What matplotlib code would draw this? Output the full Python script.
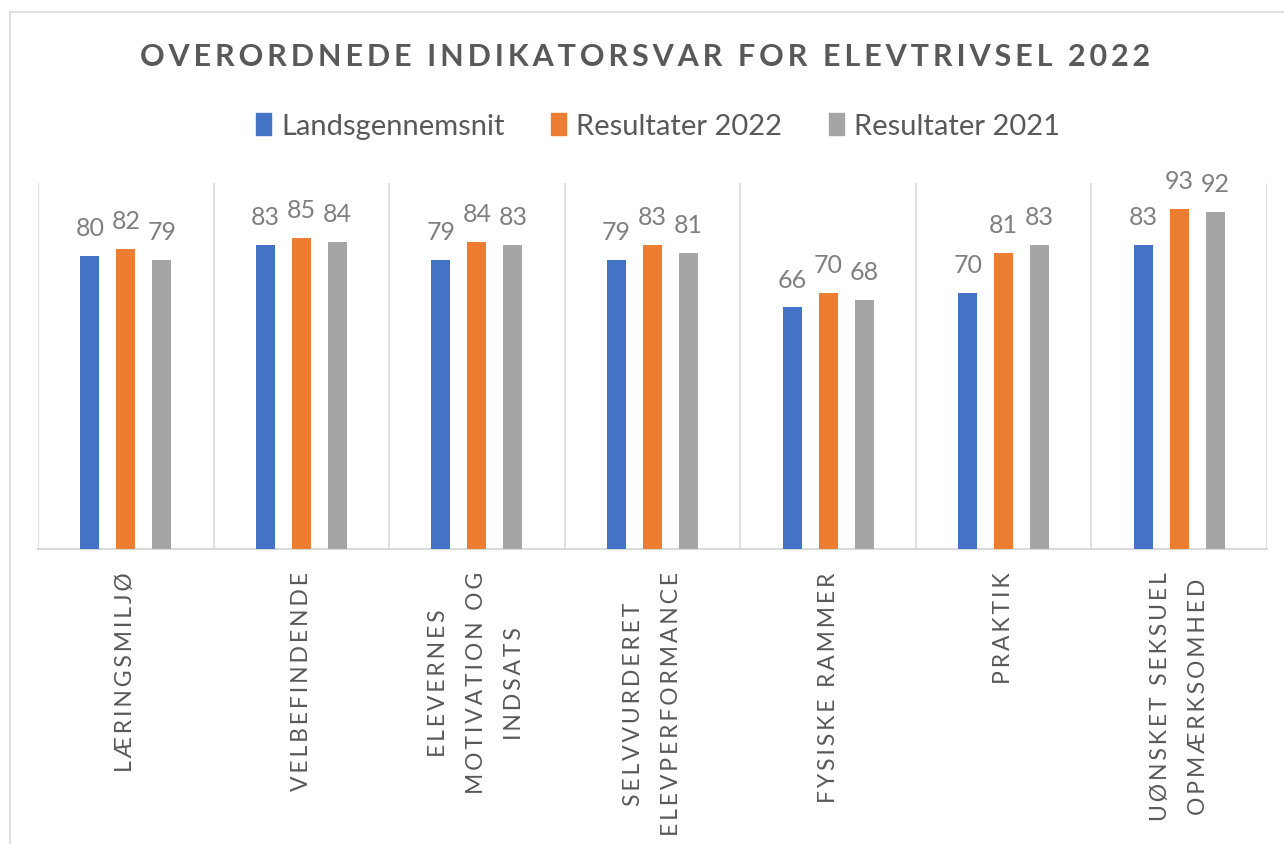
import matplotlib
matplotlib.use("Agg")
import matplotlib.pyplot as plt
import numpy as np
from matplotlib.lines import Line2D
from matplotlib.patches import Patch

plt.rcParams['font.family'] = ['Lato', 'DejaVu Sans']

title = "OVERORDNEDE INDIKATORSVAR FOR ELEVTRIVSEL 2022"
categories = ["LÆRINGSMILJØ", "VELBEFINDENDE", "ELEVERNES\nMOTIVATION OG\nINDSATS",
              "SELVVURDERET\nELEVPERFORMANCE", "FYSISKE RAMMER", "PRAKTIK",
              "UØNSKET SEKSUEL\nOPMÆRKSOMHED"]
series_names = ["Landsgennemsnit", "Resultater 2022", "Resultater 2021"]
landsgennemsnit = [80, 83, 79, 79, 66, 70, 83]
resultater_2022 = [82, 85, 84, 83, 70, 81, 93]
resultater_2021 = [79, 84, 83, 81, 68, 83, 92]
colors = ["#4472C4", "#ED7D31", "#A5A5A5"]


def spaced(s, sp="\u2009"):
    lines = []
    for line in s.split("\n"):
        words = line.split(" ")
        lines.append((sp * 4).join(sp.join(w) for w in words))
    return "\n".join(lines)


W, H = 1284, 845
fig = plt.figure(figsize=(W / 100, H / 100), dpi=100)

# chart border
fig.add_artist(Line2D([10 / W, 10 / W], [0, 1 - 13 / H], transform=fig.transFigure,
                      color="#d9d9d9", lw=1.2))
fig.add_artist(Line2D([10 / W, 1], [1 - 13 / H, 1 - 13 / H], transform=fig.transFigure,
                      color="#d9d9d9", lw=1.2))

ax = fig.add_axes([38 / W, (H - 550) / H, (1267 - 38) / W, 366 / H])
n = len(categories)
x = np.arange(n)
bw = 0.108
offs = [-0.205, 0.0, 0.205]
all_series = [landsgennemsnit, resultater_2022, resultater_2021]
for s, vals, c, o in zip(series_names, all_series, colors, offs):
    bars = ax.bar(x + o, vals, width=bw, color=c, label=s, zorder=3)
    for b, v in zip(bars, vals):
        ax.text(b.get_x() + b.get_width() / 2, v + 4.6, str(v), ha="center", va="bottom",
                fontsize=18, color="#7f7f7f")

ax.set_xlim(-0.5, n - 0.5)
ax.set_ylim(0, 100)
ax.set_yticks([])
for xv in np.arange(-0.5, n, 1.0):
    ax.axvline(xv, color="#d9d9d9", lw=1.2, zorder=1)
for sp in ["top", "right", "left"]:
    ax.spines[sp].set_visible(False)
ax.spines["bottom"].set_color("#d9d9d9")
ax.spines["bottom"].set_linewidth(1.5)
ax.set_xticks(x)
ax.set_xticklabels([spaced(c) for c in categories], rotation=90, ha="center", va="top",
                   multialignment="center", fontsize=16.5, color="#595959", linespacing=2.0)
ax.tick_params(axis="x", length=0, pad=16)

fig.text(645 / W, 1 - 57 / H, spaced(title, "\u2009"), ha="center", va="center",
         fontsize=22, fontweight="bold", color="#595959")

handles = [Patch(color=c) for c in colors]
fig.legend(handles, series_names, loc="center", bbox_to_anchor=(658 / W, 1 - 127 / H),
           ncol=3, frameon=False, fontsize=21, labelcolor="#595959",
           handlelength=0.52, handleheight=0.75, handletextpad=0.34, columnspacing=1.6)

fig.savefig("out.png", dpi=100, facecolor="white")
